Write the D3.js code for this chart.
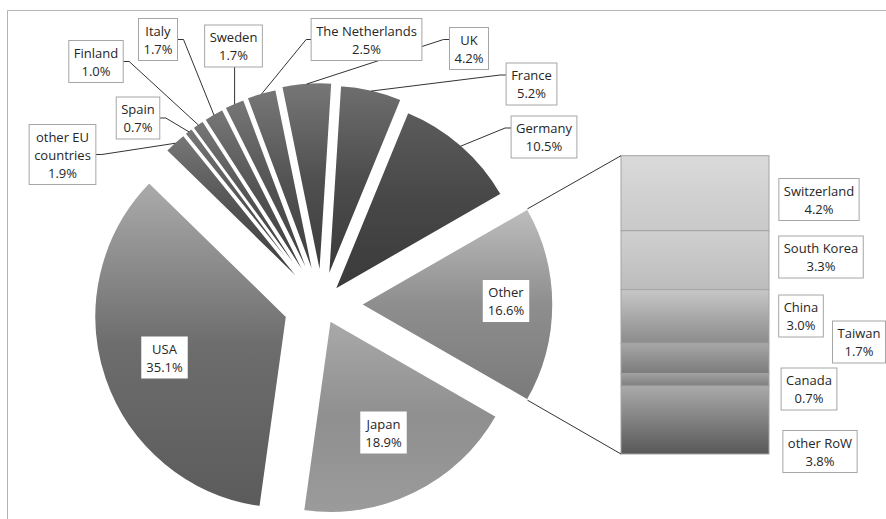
<!DOCTYPE html>
<html>
<head>
<meta charset="utf-8">
<script src="https://cdn.jsdelivr.net/npm/d3@7"></script>
<style>
  html, body { margin: 0; padding: 0; background: #fff; }
  svg { display: block; font-family: "Open Sans", "Noto Sans", sans-serif; }
</style>
</head>
<body>
<script>
// Pie slices, listed clockwise starting with the aggregated "Other" slice
const pieCategories = ["Other", "Japan", "USA", "other EU countries", "Spain", "Finland",
  "Italy", "Sweden", "The Netherlands", "UK", "France", "Germany"];
const pieValues = [16.6, 18.9, 35.1, 1.9, 0.7, 1.0, 1.7, 1.7, 2.5, 4.2, 5.2, 10.5];

// Breakdown of "Other", top to bottom
const barCategories = ["Switzerland", "South Korea", "China", "Taiwan", "Canada", "other RoW"];
const barValues = [4.2, 3.3, 3.0, 1.7, 0.7, 3.8];

// ---- layout & style ----
const W = 886, H = 519;
const center = { x: 322, y: 304.5 };
const radius = 192;
const explode = { "Other": 39, "Japan": 18, "USA": 37.4, "Germany": 19.5, "UK": 30, "France": 28,
  "The Netherlands": 28, "Sweden": 27.5 };
const defaultExplode = 27;

const sliceFill = {
  "Other": ["#bdbdbd", "#8e8e8e", "#7a7a7a"],
  "Japan": ["#a9a9a9", "#8f8f8f", "#9b9b9b"],
  "USA": ["#ababab", "#6d6d6d", "#5b5b5b"],
  "Germany": ["#5c5c5c", "#474747", "#3a3a3a"],
  "France": ["#6e6e6e", "#4c4c4c", "#3a3a3a"],
  "UK": ["#777777", "#505050", "#3b3b3b"]
};
const defaultSliceFill = ["#777777", "#525252", "#3d3d3d"];

const barFill = {
  "Switzerland": ["#dadada", "#c9c9c9"],
  "South Korea": ["#d0d0d0", "#bcbcbc"],
  "China": ["#c7c7c7", "#8b8b8b"],
  "Taiwan": ["#a7a7a7", "#7b7b7b"],
  "Canada": ["#a0a0a0", "#7f7f7f"],
  "other RoW": ["#aaaaaa", "#585858"]
};
const bar = { x0: 621, x1: 769, y0: 155.7, y1: 454 };

const lineH = 18;
// label centres and where their leader line leaves the box
const pieLabels = {
  "other EU countries": { x: 62.5, y: 154.5, lines: ["other EU", "countries"], attach: "right" },
  "Spain": { x: 138, y: 118, attach: "right" },
  "Finland": { x: 96, y: 61.5, attach: "right" },
  "Italy": { x: 158, y: 39.5, attach: "right" },
  "Sweden": { x: 233.5, y: 46, attach: "bottom" },
  "The Netherlands": { x: 366.5, y: 39.5, attach: "left" },
  "UK": { x: 469, y: 48.5, attach: "leftTop" },
  "France": { x: 531.5, y: 84, attach: "leftTop" },
  "Germany": { x: 544, y: 137, attach: "leftTop" },
  "Other": { x: 506, y: 301, inside: true },
  "USA": { x: 164.5, y: 357.5, inside: true },
  "Japan": { x: 383.5, y: 432.5, inside: true }
};
const barLabels = {
  "Switzerland": { x: 819, y: 199.5 },
  "South Korea": { x: 821, y: 257 },
  "China": { x: 801, y: 316 },
  "Taiwan": { x: 859, y: 342 },
  "Canada": { x: 809, y: 389 },
  "other RoW": { x: 820, y: 451.5 }
};

const fmt = v => v.toFixed(1) + "%";

const svg = d3.select("body").append("svg").attr("width", W).attr("height", H);
const defs = svg.append("defs");

function gradient(id, stops) {
  const g = defs.append("linearGradient").attr("id", id)
    .attr("x1", 0).attr("y1", 0).attr("x2", 0).attr("y2", 1);
  stops.forEach((c, i) => g.append("stop")
    .attr("offset", stops.length === 1 ? 0 : i / (stops.length - 1))
    .attr("stop-color", c));
  return `url(#${id})`;
}

// chart area frame
svg.append("path").attr("d", `M7.5,${H} V10.5 H${W}`)
  .attr("fill", "none").attr("stroke", "#b4b4b4").attr("stroke-width", 1);

// ---- pie ----
const total = d3.sum(pieValues);
const otherShare = pieValues[0] / total;
const startAngle = Math.PI / 2 - otherShare * Math.PI;
const pie = d3.pie().sort(null).value(d => d.value)
  .startAngle(startAngle).endAngle(startAngle + 2 * Math.PI);
const arcs = pie(pieCategories.map((c, i) => ({ name: c, value: pieValues[i] })));
const arc = d3.arc().innerRadius(0).outerRadius(radius);

function offsetOf(d) {
  const e = explode[d.data.name] ?? defaultExplode;
  const m = (d.startAngle + d.endAngle) / 2;
  return { x: center.x + e * Math.sin(m), y: center.y - e * Math.cos(m), e, m };
}

const slices = svg.append("g");
arcs.forEach((d, i) => {
  const o = offsetOf(d);
  slices.append("path")
    .attr("transform", `translate(${o.x},${o.y})`)
    .attr("d", arc(d))
    .attr("fill", gradient("slice" + i, sliceFill[d.data.name] || defaultSliceFill))
    .attr("stroke", "#fff").attr("stroke-width", 1.5).attr("stroke-linejoin", "round");
});

// ---- bar of "Other" ----
const barTotal = d3.sum(barValues);
const y = d3.scaleLinear().domain([0, barTotal]).range([bar.y0, bar.y1]);
const cum = d3.cumsum(barValues);
const barG = svg.append("g");
barCategories.forEach((c, i) => {
  const a = i === 0 ? 0 : cum[i - 1], b = cum[i];
  barG.append("rect")
    .attr("x", bar.x0).attr("width", bar.x1 - bar.x0)
    .attr("y", y(a)).attr("height", y(b) - y(a))
    .attr("fill", gradient("bar" + i, barFill[c]))
    .attr("stroke", "#a3a3a3").attr("stroke-width", 1);
});

// connectors from the "Other" slice corners to the bar
const otherArc = arcs[0];
const oo = offsetOf(otherArc);
const corner = a => [oo.x + radius * Math.sin(a), oo.y - radius * Math.cos(a)];
const c0 = corner(otherArc.startAngle), c1 = corner(otherArc.endAngle);
svg.append("line").attr("x1", c0[0]).attr("y1", c0[1]).attr("x2", bar.x0).attr("y2", y(0))
  .attr("stroke", "#333").attr("stroke-width", 1);
svg.append("line").attr("x1", c1[0]).attr("y1", c1[1]).attr("x2", bar.x0).attr("y2", y(barTotal))
  .attr("stroke", "#333").attr("stroke-width", 1);

// ---- labels ----
const leaderG = svg.append("g");
const labelG = svg.append("g");

function drawLabel(lines, cx, cy, boxed) {
  const g = labelG.append("g");
  const rect = g.append("rect");
  const n = lines.length;
  let maxW = 0;
  lines.forEach((t, k) => {
    const tx = g.append("text")
      .attr("x", cx).attr("y", cy + (k - (n - 1) / 2) * lineH)
      .attr("text-anchor", "middle").attr("dominant-baseline", "central")
      .attr("font-size", 13).attr("fill", "#262626").text(t);
    maxW = Math.max(maxW, tx.node().getComputedTextLength());
  });
  const bw = maxW + 10, bh = n * lineH + 6;
  const box = { x: cx - bw / 2, y: cy - bh / 2, w: bw, h: bh };
  rect.attr("x", box.x).attr("y", box.y).attr("width", bw).attr("height", bh)
    .attr("fill", "#fff").attr("stroke", boxed ? "#a6a6a6" : "none").attr("stroke-width", 1);
  return box;
}

arcs.forEach(d => {
  const L = pieLabels[d.data.name];
  const lines = L.lines || [d.data.name];
  const box = drawLabel([...lines, fmt(d.data.value)], L.x, L.y, !L.inside);
  if (L.inside) return;
  const o = offsetOf(d);
  const tx = o.x + (radius - 1) * Math.sin(o.m), ty = o.y - (radius - 1) * Math.cos(o.m);
  let pts;
  if (L.attach === "bottom") {
    pts = [[tx, box.y + box.h], [tx, ty]];
  } else if (L.attach === "right") {
    const sy = L.y;
    pts = [[box.x + box.w, sy], [box.x + box.w + 6, sy], [tx, ty]];
  } else if (L.attach === "left") {
    const sy = L.y;
    pts = [[box.x, sy], [box.x - 5, sy], [tx, ty]];
  } else {
    const sy = L.y - lineH / 2;
    pts = [[box.x, sy], [box.x - 6, sy], [tx, ty]];
  }
  leaderG.append("path").attr("d", d3.line()(pts))
    .attr("fill", "none").attr("stroke", "#333").attr("stroke-width", 1);
});

barCategories.forEach((c, i) => {
  const L = barLabels[c];
  drawLabel([c, fmt(barValues[i])], L.x, L.y, true);
});
</script>
</body>
</html>
